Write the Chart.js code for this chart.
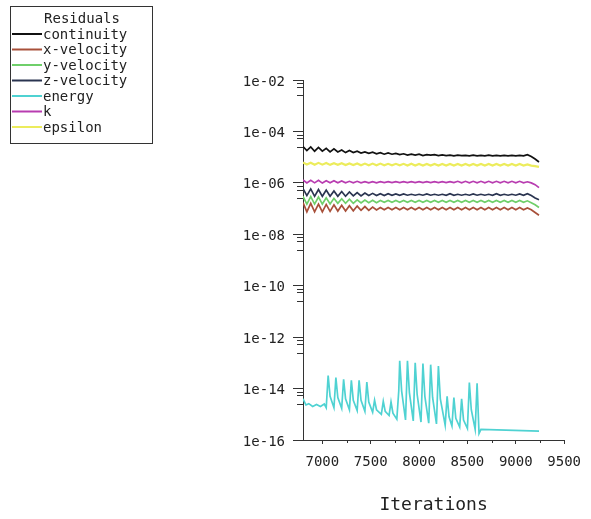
<!DOCTYPE html>
<html>
<head>
<meta charset="utf-8">
<script src="https://cdn.jsdelivr.net/npm/chart.js@4.4.1/dist/chart.umd.min.js"></script>
<style>
  html, body { margin: 0; padding: 0; background: #fff; }
  #wrap { width: 591px; height: 519px; position: relative; }
</style>
</head>
<body>
<div id="wrap"><canvas id="residuals"></canvas></div>
<script>
// Iteration numbers shared by the flow/turbulence residuals
const iterations = [
  6800, 6840, 6880, 6920, 6960, 7000, 7040, 7080, 7120, 7160,
  7200, 7240, 7280, 7320, 7360, 7400, 7440, 7480, 7520, 7560,
  7600, 7640, 7680, 7720, 7760, 7800, 7840, 7880, 7920, 7960,
  8000, 8040, 8080, 8120, 8160, 8200, 8240, 8280, 8320, 8360,
  8400, 8440, 8480, 8520, 8560, 8600, 8640, 8680, 8720, 8760,
  8800, 8840, 8880, 8920, 8960, 9000, 9040, 9080, 9120, 9160,
  9200, 9240
];

const continuity = [
  2.6e-5, 1.8e-5, 2.5e-5, 1.7e-5, 2.4e-5, 1.7e-5, 2.2e-5, 1.6e-5, 2.1e-5, 1.6e-5,
  1.9e-5, 1.5e-5, 1.8e-5, 1.5e-5, 1.7e-5, 1.45e-5, 1.6e-5, 1.4e-5, 1.55e-5, 1.35e-5,
  1.5e-5, 1.3e-5, 1.45e-5, 1.3e-5, 1.4e-5, 1.25e-5, 1.35e-5, 1.2e-5, 1.3e-5, 1.2e-5,
  1.3e-5, 1.15e-5, 1.25e-5, 1.2e-5, 1.25e-5, 1.15e-5, 1.22e-5, 1.15e-5, 1.2e-5, 1.12e-5,
  1.2e-5, 1.15e-5, 1.18e-5, 1.12e-5, 1.2e-5, 1.12e-5, 1.18e-5, 1.13e-5, 1.2e-5, 1.12e-5,
  1.18e-5, 1.12e-5, 1.17e-5, 1.12e-5, 1.18e-5, 1.13e-5, 1.17e-5, 1.12e-5, 1.25e-5, 1.05e-5,
  8.5e-6, 6.5e-6
];
const xVelocity = [
  1.7e-7, 7.5e-8, 1.6e-7, 7.5e-8, 1.5e-7, 7.5e-8, 1.45e-7, 7.8e-8, 1.4e-7, 8e-8,
  1.35e-7, 8e-8, 1.3e-7, 8.2e-8, 1.25e-7, 8.5e-8, 1.2e-7, 8.5e-8, 1.15e-7, 8.8e-8,
  1.1e-7, 9e-8, 1.1e-7, 9e-8, 1.1e-7, 9e-8, 1.1e-7, 9e-8, 1.1e-7, 9e-8,
  1.1e-7, 9e-8, 1.1e-7, 9e-8, 1.1e-7, 9e-8, 1.1e-7, 9e-8, 1.1e-7, 9e-8,
  1.1e-7, 9e-8, 1.1e-7, 9e-8, 1.1e-7, 9e-8, 1.1e-7, 9e-8, 1.1e-7, 9e-8,
  1.1e-7, 9e-8, 1.1e-7, 9e-8, 1.1e-7, 9e-8, 1.1e-7, 9e-8, 1.05e-7, 9e-8,
  7e-8, 5.5e-8
];
const yVelocity = [
  3.0e-7, 1.5e-7, 2.9e-7, 1.5e-7, 2.8e-7, 1.5e-7, 2.6e-7, 1.5e-7, 2.5e-7, 1.6e-7,
  2.4e-7, 1.6e-7, 2.3e-7, 1.6e-7, 2.2e-7, 1.65e-7, 2.15e-7, 1.7e-7, 2.1e-7, 1.7e-7,
  2.05e-7, 1.75e-7, 2.05e-7, 1.75e-7, 2.05e-7, 1.75e-7, 2.05e-7, 1.75e-7, 2.05e-7, 1.75e-7,
  2.05e-7, 1.75e-7, 2.05e-7, 1.75e-7, 2.05e-7, 1.75e-7, 2.05e-7, 1.75e-7, 2.05e-7, 1.75e-7,
  2.05e-7, 1.75e-7, 2.05e-7, 1.75e-7, 2.05e-7, 1.75e-7, 2.05e-7, 1.75e-7, 2.05e-7, 1.75e-7,
  2.05e-7, 1.75e-7, 2.05e-7, 1.75e-7, 2.05e-7, 1.75e-7, 2.05e-7, 1.75e-7, 2.0e-7, 1.7e-7,
  1.4e-7, 1.1e-7
];
const zVelocity = [
  6.0e-7, 3.2e-7, 5.8e-7, 3.0e-7, 5.5e-7, 3.0e-7, 5.2e-7, 3.0e-7, 4.8e-7, 3.0e-7,
  4.6e-7, 3.0e-7, 4.4e-7, 3.1e-7, 4.2e-7, 3.1e-7, 4.0e-7, 3.2e-7, 3.9e-7, 3.2e-7,
  3.8e-7, 3.2e-7, 3.8e-7, 3.3e-7, 3.7e-7, 3.3e-7, 3.7e-7, 3.3e-7, 3.6e-7, 3.3e-7,
  3.6e-7, 3.3e-7, 3.7e-7, 3.3e-7, 3.6e-7, 3.3e-7, 3.6e-7, 3.3e-7, 3.8e-7, 3.3e-7,
  3.6e-7, 3.3e-7, 3.6e-7, 3.3e-7, 3.7e-7, 3.3e-7, 3.6e-7, 3.3e-7, 3.6e-7, 3.3e-7,
  3.8e-7, 3.3e-7, 3.6e-7, 3.3e-7, 3.6e-7, 3.3e-7, 3.7e-7, 3.3e-7, 3.8e-7, 3.2e-7,
  2.6e-7, 2.2e-7
];
const kResidual = [
  1.3e-6, 1.0e-6, 1.25e-6, 1.0e-6, 1.25e-6, 9.8e-7, 1.2e-6, 1.0e-6, 1.2e-6, 1.0e-6,
  1.18e-6, 1.0e-6, 1.15e-6, 1.0e-6, 1.15e-6, 1.0e-6, 1.12e-6, 1.0e-6, 1.12e-6, 1.0e-6,
  1.12e-6, 1.02e-6, 1.12e-6, 1.02e-6, 1.12e-6, 1.02e-6, 1.12e-6, 1.02e-6, 1.12e-6, 1.02e-6,
  1.12e-6, 1.02e-6, 1.12e-6, 1.02e-6, 1.12e-6, 1.02e-6, 1.12e-6, 1.02e-6, 1.12e-6, 1.02e-6,
  1.15e-6, 1.0e-6, 1.15e-6, 1.0e-6, 1.15e-6, 1.0e-6, 1.15e-6, 1.0e-6, 1.15e-6, 1.0e-6,
  1.15e-6, 1.0e-6, 1.15e-6, 1.0e-6, 1.15e-6, 1.0e-6, 1.15e-6, 1.0e-6, 1.1e-6, 1.0e-6,
  8.5e-7, 6.5e-7
];
const epsilon = [
  6.2e-6, 5.2e-6, 6.1e-6, 5.1e-6, 6.0e-6, 5.1e-6, 5.9e-6, 5.0e-6, 5.8e-6, 5.0e-6,
  5.8e-6, 4.9e-6, 5.7e-6, 4.9e-6, 5.7e-6, 4.8e-6, 5.6e-6, 4.8e-6, 5.6e-6, 4.8e-6,
  5.6e-6, 4.8e-6, 5.5e-6, 4.8e-6, 5.5e-6, 4.8e-6, 5.5e-6, 4.7e-6, 5.5e-6, 4.7e-6,
  5.4e-6, 4.7e-6, 5.4e-6, 4.7e-6, 5.4e-6, 4.7e-6, 5.4e-6, 4.7e-6, 5.4e-6, 4.7e-6,
  5.4e-6, 4.7e-6, 5.4e-6, 4.7e-6, 5.4e-6, 4.7e-6, 5.4e-6, 4.7e-6, 5.4e-6, 4.7e-6,
  5.4e-6, 4.7e-6, 5.4e-6, 4.7e-6, 5.4e-6, 4.7e-6, 5.4e-6, 4.7e-6, 5.2e-6, 4.7e-6,
  4.5e-6, 4.2e-6
];

// Energy residual has its own (uneven) iteration sampling around the spikes
const energyIterations = [
  6800, 6830, 6860, 6900, 6940, 6980, 7020, 7040,
  7060, 7080, 7120, 7140, 7160, 7200, 7220, 7240, 7280, 7300, 7320, 7360,
  7380, 7400, 7440, 7460, 7480, 7520,
  7540, 7560, 7610, 7630, 7650, 7690, 7710, 7730, 7770,
  7790, 7800, 7820, 7860, 7880, 7900, 7940, 7960, 7980, 8020,
  8040, 8060, 8100, 8120, 8140, 8180, 8200, 8220, 8270,
  8290, 8310, 8340, 8360, 8380, 8420, 8440, 8460, 8500,
  8520, 8540, 8580, 8600, 8620, 8640, 9240
];
const energy = [
  4.0e-15, 2.3e-15, 2.6e-15, 2.0e-15, 2.4e-15, 2.0e-15, 2.5e-15, 1.8e-15,
  3.2e-14, 5e-15, 1.8e-15, 2.7e-14, 4.5e-15, 1.7e-15, 2.3e-14, 4e-15, 1.5e-15, 2.1e-14, 3.5e-15, 1.4e-15,
  2.1e-14, 3.5e-15, 1.3e-15, 1.8e-14, 3e-15, 1.2e-15,
  3.5e-15, 1.5e-15, 1.0e-15, 3.2e-15, 1.3e-15, 9e-16, 3.0e-15, 1.1e-15, 6.5e-16,
  8e-15, 1.2e-13, 8e-15, 6e-16, 1.2e-13, 7e-15, 5.5e-16, 1.0e-13, 6e-15, 5e-16,
  9.5e-14, 5e-15, 4.5e-16, 8.5e-14, 4.5e-15, 4.2e-16, 7.5e-14, 4e-15, 3.8e-16,
  5e-15, 8e-16, 3.5e-16, 4.5e-15, 7e-16, 3.2e-16, 4e-15, 6e-16, 2.8e-16,
  1.7e-14, 1.5e-15, 2.6e-16, 1.6e-14, 1.8e-16, 2.6e-16, 2.2e-16
];

const yTickValues = [1e-16, 1e-14, 1e-12, 1e-10, 1e-8, 1e-6, 1e-4, 1e-2];
const xTickValues = [7000, 7500, 8000, 8500, 9000, 9500];
const xMinorTicks = [7250, 7750, 8250, 8750, 9250];

const seriesNames = ['continuity', 'x-velocity', 'y-velocity', 'z-velocity', 'energy', 'k', 'epsilon'];
const seriesColors = ['#111111', '#a8503a', '#6fcf6a', '#2a3450', '#4fd2d2', '#b83cb0', '#ecec5c'];

const MONO = '"DejaVu Sans Mono", "Liberation Mono", monospace';

function pairs(xs, ys) {
  return xs.map((x, i) => ({ x: x, y: ys[i] }));
}

const seriesData = [
  pairs(iterations, continuity),
  pairs(iterations, xVelocity),
  pairs(iterations, yVelocity),
  pairs(iterations, zVelocity),
  pairs(energyIterations, energy),
  pairs(iterations, kResidual),
  pairs(iterations, epsilon)
];

// Boxed legend in the top-left corner with a title
const residualLegend = {
  id: 'residualLegend',
  afterDraw(chart) {
    const ctx = chart.ctx;
    ctx.save();
    ctx.strokeStyle = '#333';
    ctx.lineWidth = 1;
    ctx.strokeRect(10.5, 6.5, 142, 137);
    ctx.font = '14px ' + MONO;
    ctx.fillStyle = '#222';
    ctx.textBaseline = 'middle';
    ctx.textAlign = 'center';
    ctx.fillText('Residuals', 82, 19);
    ctx.textAlign = 'left';
    chart.data.datasets.forEach((ds, i) => {
      const y = 34 + i * 15.5;
      ctx.strokeStyle = ds.borderColor;
      ctx.lineWidth = 2;
      ctx.beginPath();
      ctx.moveTo(12, y);
      ctx.lineTo(42, y);
      ctx.stroke();
      ctx.fillStyle = '#222';
      ctx.fillText(ds.label, 43, y + 1);
    });
    ctx.restore();
  }
};

// Short minor tick marks on both axes
const minorTicks = {
  id: 'minorTicks',
  afterDraw(chart) {
    const ctx = chart.ctx;
    const xs = chart.scales.x;
    const ys = chart.scales.y;
    const area = chart.chartArea;
    ctx.save();
    ctx.strokeStyle = '#333';
    ctx.lineWidth = 1;
    ctx.beginPath();
    yTickValues.forEach(v => {
      [0.75, 0.55, 0.25].forEach(f => {
        const val = v * f;
        if (val < ys.min) return;
        const py = Math.round(ys.getPixelForValue(val)) + 0.5;
        ctx.moveTo(area.left - 6, py);
        ctx.lineTo(area.left, py);
      });
    });
    xMinorTicks.forEach(v => {
      const px = Math.round(xs.getPixelForValue(v)) + 0.5;
      ctx.moveTo(px, area.bottom);
      ctx.lineTo(px, area.bottom + 3);
    });
    ctx.stroke();
    ctx.restore();
  }
};

const ctx = document.getElementById('residuals').getContext('2d');
const chart = new Chart(ctx, {
  type: 'line',
  data: {
    datasets: seriesNames.map((name, i) => ({
      label: name,
      data: seriesData[i],
      borderColor: seriesColors[i],
      backgroundColor: seriesColors[i],
      borderWidth: i === 6 ? 2.2 : 1.7,
      pointRadius: 0,
      tension: 0,
      fill: false
    }))
  },
  options: {
    responsive: true,
    maintainAspectRatio: false,
    animation: false,
    layout: { padding: { top: 80, right: 18, bottom: 0, left: 0 } },
    plugins: {
      legend: { display: false },
      tooltip: { enabled: false }
    },
    scales: {
      x: {
        type: 'linear',
        min: 6800,
        max: 9500,
        afterBuildTicks: s => { s.ticks = xTickValues.map(v => ({ value: v })); },
        afterFit: s => { s.height = 79; },
        grid: { drawOnChartArea: false, tickLength: 4, color: '#333' },
        border: { color: '#333', width: 1 },
        ticks: {
          padding: 10,
          color: '#222',
          font: { family: MONO, size: 14 },
          maxRotation: 0,
          callback: v => String(v)
        },
        title: {
          display: true,
          text: 'Iterations',
          color: '#222',
          font: { family: MONO, size: 18 },
          padding: { top: 0, bottom: 3 }
        }
      },
      y: {
        type: 'logarithmic',
        min: 1e-16,
        max: 1e-2,
        afterBuildTicks: s => { s.ticks = yTickValues.map(v => ({ value: v })); },
        afterFit: s => { s.width = 303; },
        grid: { drawOnChartArea: false, tickLength: 10, color: '#333' },
        border: { color: '#333', width: 1 },
        ticks: {
          padding: 8,
          labelOffset: 2,
          color: '#222',
          font: { family: MONO, size: 14 },
          callback: v => {
            const e = Math.round(Math.log10(v));
            return '1e-' + String(-e).padStart(2, '0');
          }
        }
      }
    }
  },
  plugins: [residualLegend, minorTicks]
});
</script>
</body>
</html>
